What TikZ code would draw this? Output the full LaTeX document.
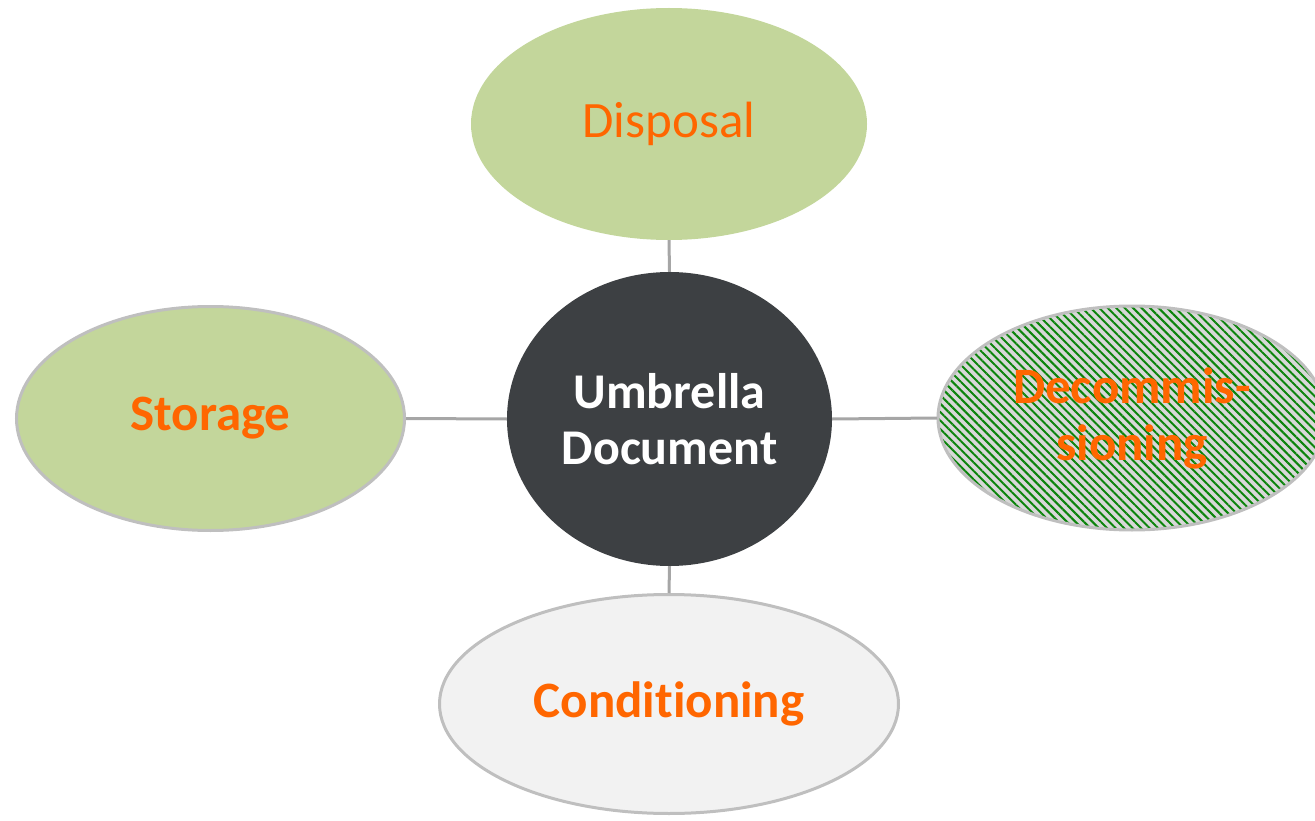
\documentclass[tikz,border=0pt]{standalone}
\usepackage{fontspec}
\setmainfont{Carlito}[Ligatures=NoCommon]
\usetikzlibrary{shapes.geometric,patterns.meta}
\definecolor{leafgreen}{HTML}{C3D69B}
\definecolor{mistgray}{HTML}{F2F2F2}
\definecolor{rimgray}{HTML}{BFBFBF}
\definecolor{linkgray}{HTML}{A6A6A6}
\definecolor{hubgray}{HTML}{3D4043}
\definecolor{labelorange}{HTML}{FF6600}
\definecolor{hatchgreen}{HTML}{0C840C}
\definecolor{hatchback}{HTML}{D8D8D8}
\tikzset{
  topic/.style={ellipse, inner sep=0pt, text=labelorange, align=center,
    font=\bfseries\fontsize{51}{57}\selectfont},
  rimmed/.style={draw=rimgray, line width=3pt},
  link/.style={draw=linkgray, line width=3pt}
}
\begin{document}
\begin{tikzpicture}[x=1pt,y=-1pt]
  % hub and the four topics round it
  \clip (0,0) rectangle (1315,821);

  \node[ellipse, fill=hubgray, text=white, align=center, inner sep=0pt,
        font=\bfseries\fontsize{50}{56}\selectfont,
        minimum width=325pt, minimum height=294pt] (hub) at (669.5,419) {Umbrella\\Document};

  \node[topic, fill=leafgreen, font=\fontsize{51}{57}\selectfont,
        minimum width=396pt, minimum height=232pt] (disposal) at (669,124) {Disposal};
  \node[topic, rimmed, fill=leafgreen,
        minimum width=388pt, minimum height=224pt] (storage) at (210.5,418.5) {Storage};
  \node[topic, rimmed, preaction={fill=hatchback},
        pattern={Lines[angle=-45, distance=6pt, line width=2pt]}, pattern color=hatchgreen,
        minimum width=388pt, minimum height=224pt] (decomm) at (1132,418) {Decommis-\\sioning};
  \node[topic, rimmed, fill=mistgray,
        minimum width=459pt, minimum height=219pt] (cond) at (669,704) {Conditioning};

  \draw[link] (disposal.south) -- (hub.north);
  \draw[link] (storage.east) -- (hub.west);
  \draw[link] (hub.east) -- (decomm.west);
  \draw[link] (hub.south) -- (cond.north);
\end{tikzpicture}
\end{document}
